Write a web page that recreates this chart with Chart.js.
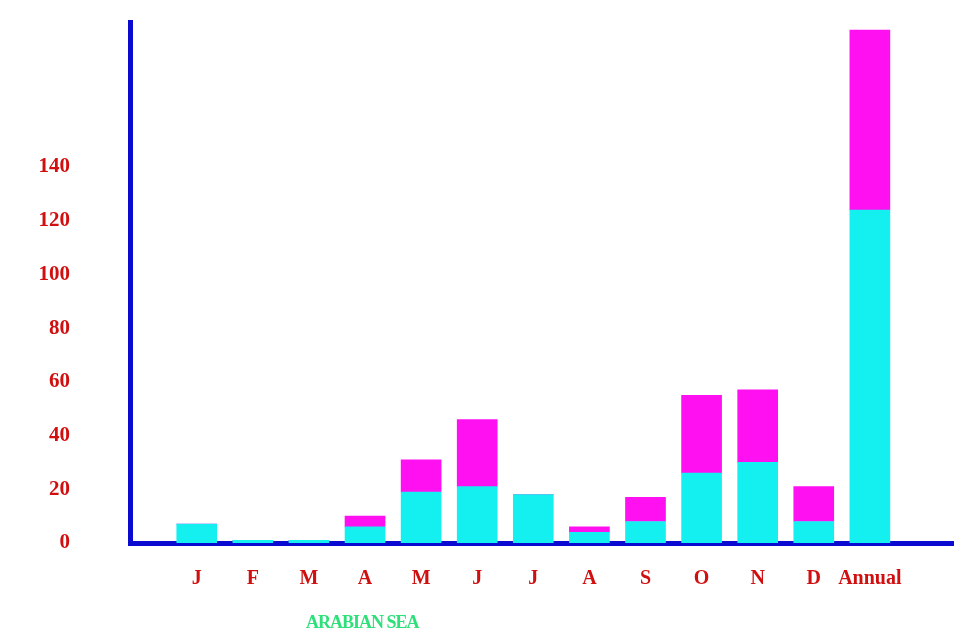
<!DOCTYPE html>
<html>
<head>
<meta charset="utf-8">
<script src="https://cdn.jsdelivr.net/npm/chart.js@4/dist/chart.umd.min.js"></script>
<style>
  html,body{margin:0;padding:0;background:#fff;}
  #wrap{position:relative;width:954px;height:639px;}
  #note{position:absolute;left:306px;top:612px;font:bold 18px "Liberation Serif",serif;color:#2ee07a;letter-spacing:-1px;}
</style>
</head>
<body>
<div id="wrap">
  <canvas id="c" width="954" height="639"></canvas>
  <div id="note">ARABIAN SEA</div>
</div>
<script>
const categories = ["J","F","M","A","M","J","J","A","S","O","N","D","Annual"];
const cyanValues = [7, 1, 1, 6, 19, 21, 18, 4, 8, 26, 30, 8, 124];
const magentaValues = [0, 0, 0, 4, 12, 25, 0, 2, 9, 29, 27, 13, 67];
const yTickLabels = [0, 20, 40, 60, 80, 100, 120, 140];

const toPts = arr => arr.map((v, i) => ({x: i, y: v}));
const serif = '"Liberation Serif", "Times New Roman", serif';

new Chart(document.getElementById('c'), {
  type: 'bar',
  data: {
    datasets: [
      {label: 'cyan', data: toPts(cyanValues), backgroundColor: '#14f0f0', barThickness: 40},
      {label: 'magenta', data: toPts(magentaValues), backgroundColor: '#ff10f0', barThickness: 40}
    ]
  },
  options: {
    responsive: false,
    animation: false,
    layout: {padding: {top: 22, left: 0, right: 0, bottom: 0}},
    plugins: {legend: {display: false}, tooltip: {enabled: false}},
    scales: {
      x: {
        type: 'linear',
        stacked: true,
        offset: false,
        min: -1.19,
        max: 13.5,
        afterBuildTicks: s => { s.ticks = categories.map((c, i) => ({value: i})); },
        afterFit: s => { s.height = 96; s.paddingLeft = 0; s.paddingRight = 0; },
        grid: {display: false, drawTicks: false},
        border: {display: true, color: '#0a0ad0', width: 5},
        ticks: {
          autoSkip: false,
          maxRotation: 0,
          padding: 24,
          color: '#d01010',
          font: {family: serif, size: 20, weight: 'bold'},
          callback: v => categories[v] !== undefined ? categories[v] : ''
        }
      },
      y: {
        stacked: true,
        min: 0,
        max: 194,
        afterBuildTicks: s => { s.ticks = yTickLabels.map(v => ({value: v})); },
        afterFit: s => { s.width = 130; s.paddingTop = 0; s.paddingBottom = 0; },
        grid: {display: false, drawTicks: false},
        border: {display: true, color: '#0a0ad0', width: 5},
        ticks: {
          padding: 60,
          color: '#d01010',
          font: {family: serif, size: 21, weight: 'bold'}
        }
      }
    }
  }
});
</script>
</body>
</html>
